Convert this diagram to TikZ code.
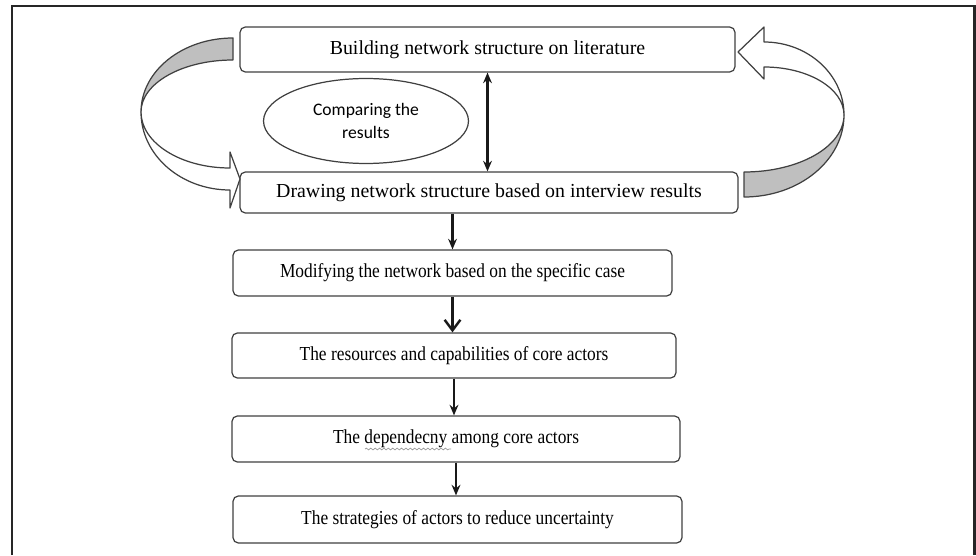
\documentclass[tikz,border=0pt]{standalone}
\usepackage{fontspec}
\setmainfont{Liberation Serif}
\newfontfamily\calibri{Carlito}
\newfontfamily\serifnarrow{Liberation Serif}[FakeStretch=0.875]
\usetikzlibrary{shapes.geometric,arrows.meta,decorations.pathmorphing}

\begin{document}
\begin{tikzpicture}[x=0.02cm, y=0.02cm,
    stepbox/.style={draw=black!75, line width=0.7pt, rounded corners=3pt, fill=white,
        inner sep=0pt, font=\fontsize{11.3}{13}\selectfont},
    narrowbox/.style={stepbox, font=\serifnarrow\fontsize{11.3}{13}\selectfont},
    flow/.style={-{Stealth[length=6pt,width=5pt]}, line width=1.4pt, black!90},
    band/.style={draw=black!75, line width=0.7pt, line join=round}]

    % Fix the size of the page and draw the frame
    \useasboundingbox (0,0) rectangle (976,555);
    \draw[line width=1.7pt, black!85] (12,0) -- (12,549) -- (974,549) -- (974,0);

    % Define the centres of the boxes
    \coordinate (P1) at (487.5,505.5);
    \coordinate (P2) at (489,362.5);
    \coordinate (P3) at (452.5,282);
    \coordinate (P4) at (454,199.5);
    \coordinate (P5) at (456,116);
    \coordinate (P6) at (457.5,35.5);

    % Draw the boxes
    \node[stepbox, minimum width=9.9cm, minimum height=0.9cm] (build) at (P1) {Building network structure on literature};
    \node[stepbox, minimum width=9.96cm, minimum height=0.82cm] (interview) at (P2) {Drawing network structure based on interview results};
    \node[narrowbox, minimum width=8.78cm, minimum height=0.92cm] (modify) at (P3) {Modifying the network based on the specific case};
    \node[narrowbox, minimum width=8.88cm, minimum height=0.9cm] (resource) at (P4) {The resources and capabilities of core actors};
    \node[narrowbox, minimum width=8.96cm, minimum height=0.92cm] (depend) at (P5) {The dependecny among core actors};
    \node[narrowbox, minimum width=8.98cm, minimum height=0.94cm] (strategy) at (P6) {The strategies of actors to reduce uncertainty};

    % Spelling squiggle under the word
    \draw[decorate, decoration={snake, amplitude=0.5pt, segment length=2.5pt}, black!40, line width=0.4pt]
        (365,106) -- (451,106);

    % Draw the ellipse
    \node[ellipse, draw=black!75, line width=0.7pt, minimum width=4.1cm, minimum height=1.7cm, inner sep=0pt,
        align=center, font=\calibri\fontsize{10}{13}\selectfont] (compare) at (366,434) {Comparing the\\results};

    % Draw the arrows between the boxes
    \draw[{Stealth[length=6pt,width=5pt]}-{Stealth[length=6pt,width=5pt]}, line width=1.4pt, black!90]
        (build.south) -- (build.south |- interview.north);
    \draw[flow] (modify.north |- interview.south) -- (modify.north);
    \draw[-{Straight Barb[length=6pt,width=9pt]}, line width=1.4pt, black!90] (modify.south) -- (modify.south |- resource.north);
    \draw[flow] (resource.south) -- (resource.south |- depend.north);
    \draw[flow] (depend.south) -- (depend.south |- strategy.north);

    % Draw the left curved arrow
    \filldraw[band, fill=black!25] (233,517) arc[start angle=90, end angle=180, x radius=92, y radius=74]
        arc[start angle=180, end angle=90, x radius=92, y radius=52] -- cycle;
    \filldraw[band, fill=white] (141,443) arc[start angle=180, end angle=270, x radius=89, y radius=78]
        -- (230,347) -- (240,376) -- (230,403) -- (230,387)
        arc[start angle=270, end angle=180, x radius=89, y radius=56] -- cycle;

    % Draw the right curved arrow
    \filldraw[band, fill=black!25] (744,358) arc[start angle=270, end angle=360, x radius=100, y radius=82]
        arc[start angle=0, end angle=-90, x radius=100, y radius=57] -- cycle;
    \filldraw[band, fill=white] (844,440) arc[start angle=0, end angle=90, x radius=80, y radius=73]
        -- (764,528) -- (738,503) -- (764,476) -- (764,488)
        arc[start angle=90, end angle=0, x radius=80, y radius=48] -- cycle;

\end{tikzpicture}
\end{document}
